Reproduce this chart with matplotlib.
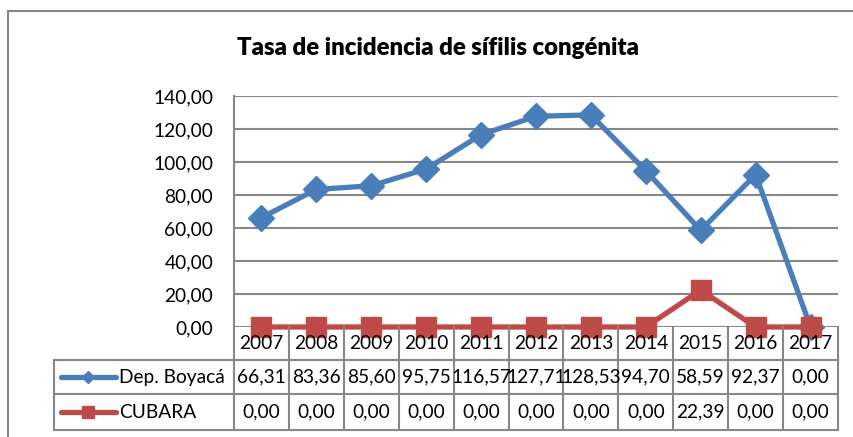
import matplotlib
matplotlib.use("Agg")
import matplotlib.pyplot as plt
import matplotlib.transforms as mtransforms
from matplotlib.lines import Line2D

# ── data ──────────────────────────────────────────────────────────────────────
years = ["2007", "2008", "2009", "2010", "2011", "2012",
         "2013", "2014", "2015", "2016", "2017"]
boyaca = [66.31, 83.36, 85.60, 95.75, 116.57, 127.71,
          128.53, 94.70, 58.59, 92.37, 0.00]
cubara = [0.00, 0.00, 0.00, 0.00, 0.00, 0.00,
          0.00, 0.00, 22.39, 0.00, 0.00]
series_names = ["Dep. Boyacá", "CUBARA"]
y_ticks = [0, 20, 40, 60, 80, 100, 120, 140]
title = "Tasa de incidencia de sífilis congénita"

# ── style ─────────────────────────────────────────────────────────────────────
BLUE = "#4a7ebb"
RED = "#be4b48"
GRID = "#878787"
W, H = 854, 437
FS = 13.8

plt.rcParams["font.family"] = ["Lato", "DejaVu Sans"]


def fmt(v):
    return f"{v:.2f}".replace(".", ",")


fig = plt.figure(figsize=(W / 100, H / 100), dpi=100)

# plot area in pixel terms: left 234, right 838, top 96, zero line 327
AX_L, AX_R, AX_T, AX_B = 234, 838, 96, 327
ax = fig.add_axes([AX_L / W, 1 - AX_B / H, (AX_R - AX_L) / W, (AX_B - AX_T) / H])

x = list(range(len(years)))
ax.plot(x, boyaca, color=BLUE, lw=3.8, marker="D", ms=13, mec=BLUE, zorder=3,
        clip_on=False)
ax.plot(x, cubara, color=RED, lw=3.8, marker="s", ms=14, mec=RED, zorder=4,
        clip_on=False)

ax.set_xlim(-0.5, len(years) - 0.5)
ax.set_ylim(0, 140)
ax.set_yticks(y_ticks)
ax.set_yticklabels([fmt(v) for v in y_ticks], fontsize=FS)
ax.tick_params(axis="y", length=0, pad=15)
ax.set_xticks([])
ax.grid(True, axis="y", color=GRID, lw=1.5)
ax.set_axisbelow(True)
for side in ["top", "right", "bottom"]:
    ax.spines[side].set_visible(False)
ax.spines["left"].set_color(GRID)
ax.spines["left"].set_linewidth(1.5)

fig.text(438 / W, 1 - 48 / H, title, ha="center", va="center",
         fontsize=17.2, fontweight="heavy")

# ── data table under the plot ─────────────────────────────────────────────────
def fy(px):
    return 1 - px / H


def fx(px):
    return px / W


trans = mtransforms.blended_transform_factory(ax.transData, fig.transFigure)
ROW_Y = [327, 360, 394, 430]  # row boundaries in pixels
LEG_L = 54
lw_tab = 1.5

# vertical cell separators
for i in range(len(years) + 1):
    xb = i - 0.5
    fig.add_artist(Line2D([xb, xb], [fy(ROW_Y[0]), fy(ROW_Y[-1])], transform=trans,
                          color=GRID, lw=lw_tab))
# horizontal separators across the value columns
for yb in ROW_Y[1:]:
    fig.add_artist(Line2D([fx(LEG_L), fx(AX_R)], [fy(yb), fy(yb)],
                          transform=fig.transFigure, color=GRID, lw=lw_tab))
fig.add_artist(Line2D([fx(LEG_L), fx(LEG_L)], [fy(ROW_Y[1]), fy(ROW_Y[-1])],
                      transform=fig.transFigure, color=GRID, lw=lw_tab))

# year row and value rows
yc = [(ROW_Y[k] + ROW_Y[k + 1]) / 2 for k in range(3)]
for i, yr in enumerate(years):
    fig.text(i, fy(yc[0]), yr, transform=trans, ha="center", va="center", fontsize=FS)
    fig.text(i, fy(yc[1]), fmt(boyaca[i]), transform=trans, ha="center",
             va="center", fontsize=FS)
    fig.text(i, fy(yc[2]), fmt(cubara[i]), transform=trans, ha="center",
             va="center", fontsize=FS)

# legend keys inside the table
for k, (name, col, mk, ms) in enumerate(zip(series_names, [BLUE, RED],
                                             ["D", "s"], [6.5, 9])):
    yy = fy(yc[k + 1])
    fig.add_artist(Line2D([fx(61), fx(116)], [yy, yy], transform=fig.transFigure,
                          color=col, lw=3.8, solid_capstyle="round"))
    fig.add_artist(Line2D([fx(88.5)], [yy], transform=fig.transFigure,
                          color=col, marker=mk, ms=ms, mec=col, lw=0))
    fig.text(fx(119), yy, name, ha="left", va="center", fontsize=FS)

# chart frame, running off the right and bottom edges
fig.add_artist(Line2D([fx(8), 1.0], [fy(11), fy(11)], transform=fig.transFigure,
                      color=GRID, lw=1.5))
fig.add_artist(Line2D([fx(8), fx(8)], [fy(11), 0.0], transform=fig.transFigure,
                      color=GRID, lw=1.5))

fig.savefig("out.png", dpi=100, facecolor="white")
